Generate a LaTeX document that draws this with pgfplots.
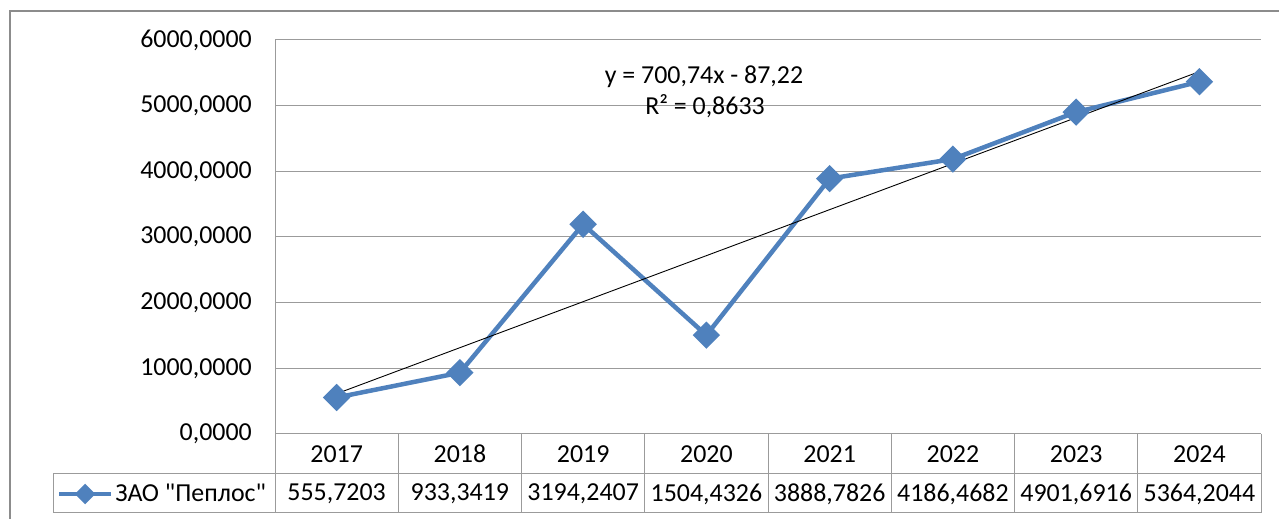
\documentclass[border=0pt]{standalone}
\usepackage{fontspec}
\setmainfont{Carlito}
\newfontfamily\plaincarlito{Carlito}[Ligatures=ResetAll]
\usepackage{pgfplots}
\pgfplotsset{compat=1.18}

\definecolor{serblue}{RGB}{79,129,189}
\definecolor{gridgray}{RGB}{155,155,155}
\definecolor{framegray}{RGB}{140,140,140}

% Revenue of ZAO "Peplos", 2017-2024 (x = 1..8)
\pgfplotstableread{
x  val
1  555.7203
2  933.3419
3  3194.2407
4  1504.4326
5  3888.7826
6  4186.4682
7  4901.6916
8  5364.2044
}\peplos

% linear trend y = 700.74x - 87.22 evaluated at x = 1 and x = 8
\pgfplotstableread{
x  val
1  613.52
8  5518.70
}\trend

\begin{document}
\begin{tikzpicture}[x=1bp,y=1bp,font=\fontsize{26}{31}\selectfont]
\path[use as bounding box] (0,0) rectangle (1279,519);
\begin{scope}
  \clip (0,0) rectangle (1279,519);
  \draw[framegray, line width=2.5bp] (10,-10) -- (10,508) -- (1300,508);
\end{scope}

\begin{axis}[
  at={(275bp,85bp)}, anchor=south west,
  scale only axis, width=986bp, height=394bp,
  xmin=0.5, xmax=8.5, ymin=0, ymax=6000,
  ytick={0,1000,2000,3000,4000,5000,6000},
  xtick={1,2,3,4,5,6,7,8},
  xticklabels={2017,2018,2019,2020,2021,2022,2023,2024},
  axis line style={draw=none},
  major tick length=0pt,
  ymajorgrids,
  grid style={gridgray, line width=1bp},
  tick label style={font=\fontsize{26}{31}\selectfont},
  yticklabel style={anchor=east, inner sep=0pt, xshift=-23bp},
  xticklabel style={anchor=center, inner sep=0pt, yshift=-20bp},
  /pgf/number format/fixed,
  /pgf/number format/fixed zerofill,
  /pgf/number format/precision=4,
  /pgf/number format/use comma,
  /pgf/number format/1000 sep={},
  /pgf/number format/assume math mode=true,
  clip=false,
  legend style={at={(rel axis cs:-0.2211,-0.1523)}, anchor=west,
    draw=none, fill=none, inner sep=0pt, outer sep=0pt,
    nodes={inner sep=2bp, font=\fontsize{26}{31}\selectfont}},
  legend image code/.code={%
    \draw[mark repeat=2, mark phase=2, #1, mark size=5bp]
      plot coordinates {(0bp,0bp) (26bp,0bp) (52bp,0bp)};},
]
\addplot[serblue, line width=4.5bp, mark=square*, mark size=7.4bp,
  mark options={rotate=45, solid}] table[x=x, y=val] {\peplos};
\addlegendentry{{\plaincarlito ЗАО "Пеплос"}}

\addplot[black, line width=0.9bp, forget plot] table[x=x, y=val] {\trend};

% values row of the data table
\node[yshift=-60bp] at (axis cs:1,0) {555,7203};
\node[yshift=-60bp] at (axis cs:2,0) {933,3419};
\node[yshift=-60bp] at (axis cs:3,0) {3194,2407};
\node[yshift=-60bp] at (axis cs:4,0) {1504,4326};
\node[yshift=-60bp] at (axis cs:5,0) {3888,7826};
\node[yshift=-60bp] at (axis cs:6,0) {4186,4682};
\node[yshift=-60bp] at (axis cs:7,0) {4901,6916};
\node[yshift=-60bp] at (axis cs:8,0) {5364,2044};
\end{axis}

% data table grid
\begin{scope}[gridgray, line width=1bp]
  \draw (275,85) -- (1261,85);
  \draw (53,45) -- (1261,45);
  \draw (53,6) -- (1261,6);
  \draw (53,45) -- (53,6);
  \draw (275,479) -- (275,6);
  \foreach \k in {1,...,8} {
    \draw ({275+123.25*\k},85) -- ({275+123.25*\k},6);
  }
\end{scope}

% trend equation
\node[anchor=base] at (704,435) {y = 700,74x - 87,22};
\node[anchor=base] at (705,404) {R² = 0,8633};
\end{tikzpicture}
\end{document}
